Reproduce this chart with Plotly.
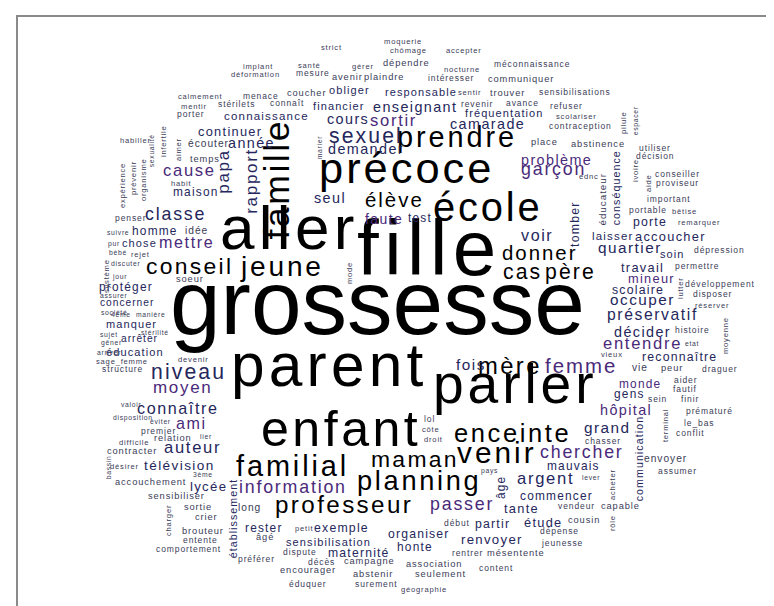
import plotly.graph_objects as go

# ---- data: word -> frequency (font size = freq * SCALE px) ----
word_freq = {
    "grossesse": 107, "fille": 92, "parent": 71, "aller": 73, "parler": 65, "enfant": 59,
    "précoce": 51, "école": 47, "famille": 42, "familial": 34, "venir": 35, "prendre": 34,
    "jeune": 33, "planning": 32, "enceinte": 30, "professeur": 28.5, "maman": 27, "conseil": 27,
    "mère": 28, "niveau": 25, "sexuel": 25, "cas": 25, "père": 25, "donner": 24, "femme": 24,
    "élève": 24, "garçon": 21, "chercher": 21, "classe": 21, "information": 21, "passer": 21,
    "rapport": 20, "papa": 20, "moyen": 20, "argent": 19.5, "cause": 19.5, "auteur": 19.5,
    "entendre": 19.5, "sortir": 19.5, "mettre": 19, "connaître": 19, "ami": 19, "voir": 19,
    "préservatif": 18.5, "quartier": 18, "occuper": 18, "fois": 18, "grand": 18,
    "décider": 17, "cours": 17, "camarade": 17, "enseignant": 17, "année": 17, "demander": 17,
    "problème": 17, "hôpital": 17, "seul": 17, "faute": 16.5, "télévision": 16, "lycée": 15.5,
    "renvoyer": 15.5, "continuer": 15, "travail": 15, "mineur": 15, "tante": 15, "étude": 15,
    "accoucher": 15, "protéger": 14, "tomber": 14.5, "scolaire": 14.5, "reconnaître": 14.5,
    "partir": 14.5, "exemple": 14.5, "porte": 14.5, "maternité": 14.4, "organiser": 14.4,
    "monde": 14, "gens": 14, "mauvais": 14, "commencer": 14, "âge": 14, "rester": 14,
    "honte": 14, "test": 14, "maison": 14, "homme": 14, "chose": 13, "concerner": 12,
    "manquer": 13, "éducation": 13, "connaissance": 13.5, "laisser": 13.5, "sensibilisation": 13,
    "soin": 13, "arrêter": 12, "obliger": 13, "responsable": 13, "fréquentation": 13,
    "financier": 13, "conséquence": 12.5, "établissement": 12.5, "communication": 12.5,
    "idée": 12, "écouter": 12, "vie": 12, "envoyer": 12, "long": 12, "contracter": 11,
    "éducateur": 11.5, "soeur": 11, "temps": 11, "dépendre": 11, "avenir": 11, "plaindre": 11,
    "communiquer": 11, "coucher": 11, "trouver": 11, "place": 11, "abstinence": 11,
    "peur": 11, "capable": 11, "cousin": 11, "mésentente": 11, "association": 11,
    "seulement": 11, "campagne": 11, "encourager": 11, "abstenir": 11, "âgé": 11,
    "relation": 11, "accouchement": 11, "sensibiliser": 11, "sortie": 11, "crier": 11,
    "brouteur": 11, "structure": 10, "méconnaissance": 10, "mesure": 10, "intéresser": 10,
    "menace": 10, "connaît": 10, "sensibilisations": 10, "stérilets": 10, "revenir": 10,
    "avance": 10, "refuser": 10, "porter": 10, "contraception": 10, "utiliser": 10,
    "décision": 10, "conseiller": 10, "proviseur": 10, "important": 10, "portable": 10,
    "dépression": 10, "permettre": 10, "développement": 10, "disposer": 10, "histoire": 10,
    "draguer": 10, "aider": 10, "fautif": 10, "sein": 10, "finir": 10, "prématuré": 10,
    "le_bas": 10, "conflit": 10, "chasser": 10, "assumer": 10, "vendeur": 10, "lol": 10,
    "début": 10, "dépense": 10, "jeunesse": 10, "rentrer": 10, "content": 10, "dispute": 10,
    "décès": 10, "éduquer": 10, "surement": 10, "préférer": 10, "entente": 10,
    "comportement": 10, "penser": 10, "rejet": 9, "sage_femme": 9, "premier": 10,
    "difficile": 9, "désirer": 9, "strict": 9, "moquerie": 9, "chômage": 9, "accepter": 9,
    "santé": 9, "gérer": 9, "nocturne": 9, "implant": 9, "déformation": 9, "calmement": 9,
    "sentir": 9, "mentir": 9, "scolariser": 9, "pilule": 9, "ivoire": 9, "aide": 9,
    "bêtise": 9, "remarquer": 9, "lutter": 9, "réserver": 9, "moyenne": 9, "vieux": 9,
    "terminal": 9, "acheter": 9, "rôle": 9, "ednc": 9, "côte": 9, "droit": 9,
    "géographie": 9, "petit": 9, "charger": 9, "infertile": 9, "aimer": 9, "habit": 9,
    "mode": 9, "devenir": 9, "habiller": 9, "organisme": 9, "expérience": 9, "prévenir": 9,
    "suivre": 8, "pur": 8, "bébé": 8, "discuter": 8, "système": 9, "jour": 8, "société": 8,
    "assurer": 8, "sujet": 8, "gêner": 8, "arriver": 8, "valoir": 8, "disposition": 8,
    "bassin": 8, "espacer": 8, "etat": 8, "lever": 8, "pays": 8, "éviter": 8, "lier": 8,
    "3ème": 8, "manière": 8, "sexualité": 8, "marier": 8, "4ème": 8, "stérilité": 8,
}
SCALE = 0.85

# ---- layout of the cloud: word -> (x px, y px, rotated?, tone) ----
placement = {
    "grossesse": (369, 313, 0, "k"), "fille": (419, 256, 0, "k"), "parent": (319, 369, 0, "k"),
    "aller": (279, 232, 0, "k"), "parler": (506, 387, 0, "k"), "enfant": (331, 431, 0, "k"),
    "précoce": (397, 169, 0, "k"), "école": (478, 207, 0, "k"), "famille": (276, 172, 1, "k"),
    "familial": (283, 464, 0, "k"), "venir": (488, 450, 0, "k"), "prendre": (448, 135, 0, "k"),
    "jeune": (273, 264, 0, "k"), "planning": (410, 478, 0, "k"), "enceinte": (503, 430, 0, "k"),
    "professeur": (335, 501, 0, "k"), "maman": (406, 456, 0, "k"), "conseil": (180, 263, 0, "k"),
    "mère": (501, 362, 0, "k"), "niveau": (179, 368, 0, "n"), "sexuel": (357, 132, 0, "n"),
    "cas": (513, 268, 0, "k"), "père": (561, 268, 0, "k"), "donner": (531, 249, 0, "k"),
    "femme": (572, 362, 0, "p"), "élève": (385, 196, 0, "k"), "garçon": (545, 165, 0, "p"),
    "chercher": (573, 448, 0, "p"), "classe": (167, 210, 0, "n"), "information": (284, 483, 0, "p"),
    "passer": (453, 500, 0, "p"), "rapport": (247, 174, 1, "n"), "papa": (219, 164, 1, "n"),
    "moyen": (174, 383, 0, "p"), "argent": (537, 474, 0, "n"), "cause": (181, 166, 0, "p"),
    "auteur": (184, 443, 0, "n"), "entendre": (634, 339, 0, "p"), "sortir": (385, 116, 0, "p"),
    "mettre": (178, 237, 0, "p"), "connaître": (169, 403, 0, "n"), "ami": (183, 418, 0, "p"),
    "voir": (528, 230, 0, "n"), "préservatif": (644, 310, 0, "n"), "quartier": (621, 243, 0, "n"),
    "occuper": (634, 295, 0, "n"), "fois": (462, 360, 0, "n"), "grand": (599, 423, 0, "n"),
    "décider": (634, 327, 0, "n"), "cours": (339, 114, 0, "n"), "camarade": (479, 119, 0, "n"),
    "enseignant": (406, 102, 0, "n"), "année": (243, 138, 0, "n"), "demander": (357, 144, 0, "n"),
    "problème": (548, 155, 0, "p"), "hôpital": (617, 405, 0, "p"), "seul": (321, 193, 0, "n"),
    "faute": (375, 214, 0, "p"), "télévision": (171, 460, 0, "n"), "lycée": (200, 481, 0, "n"),
    "renvoyer": (483, 534, 0, "n"), "continuer": (221, 126, 0, "n"), "travail": (634, 262, 0, "n"),
    "mineur": (643, 273, 0, "p"), "tante": (513, 503, 0, "n"), "étude": (535, 517, 0, "n"),
    "accoucher": (662, 231, 0, "n"), "protéger": (117, 281, 0, "n"), "tomber": (570, 217, 1, "n"),
    "scolaire": (629, 284, 0, "n"), "reconnaître": (671, 351, 0, "n"), "partir": (484, 518, 0, "n"),
    "exemple": (333, 522, 0, "n"), "porte": (641, 216, 0, "n"), "maternité": (350, 547, 0, "n"),
    "organiser": (410, 528, 0, "n"), "monde": (631, 378, 0, "p"), "gens": (621, 388, 0, "n"),
    "mauvais": (565, 460, 0, "n"), "commencer": (548, 490, 0, "n"), "âge": (496, 480, 1, "n"),
    "rester": (255, 522, 0, "n"), "honte": (406, 541, 0, "n"), "test": (411, 212, 0, "n"),
    "maison": (187, 186, 0, "n"), "homme": (146, 225, 0, "n"), "chose": (131, 237, 0, "n"),
    "concerner": (118, 297, 0, "n"), "manquer": (123, 318, 0, "n"), "éducation": (126, 346, 0, "n"),
    "connaissance": (258, 110, 0, "n"), "laisser": (604, 230, 0, "n"),
    "sensibilisation": (320, 536, 0, "n"), "soin": (664, 248, 0, "n"), "arrêter": (131, 333, 0, "n"),
    "obliger": (341, 84, 0, "n"), "responsable": (412, 86, 0, "n"), "fréquentation": (496, 107, 0, "n"),
    "financier": (330, 100, 0, "n"), "conséquence": (611, 180, 1, "n"),
    "établissement": (228, 511, 1, "n"), "communication": (634, 451, 1, "n"),
    "idée": (188, 225, 0, "d"), "écouter": (200, 138, 0, "d"), "vie": (631, 362, 0, "d"),
    "envoyer": (657, 453, 0, "d"), "long": (241, 502, 0, "d"), "contracter": (124, 445, 0, "d"),
    "éducateur": (596, 192, 1, "d"), "soeur": (182, 273, 0, "d"), "temps": (197, 153, 0, "d"),
    "dépendre": (398, 57, 0, "d"), "avenir": (339, 71, 0, "d"), "plaindre": (376, 71, 0, "d"),
    "communiquer": (513, 73, 0, "d"), "coucher": (298, 87, 0, "d"), "trouver": (499, 87, 0, "d"),
    "place": (536, 136, 0, "d"), "abstinence": (590, 138, 0, "d"), "peur": (664, 362, 0, "d"),
    "capable": (612, 500, 0, "d"), "cousin": (576, 514, 0, "d"), "mésentente": (508, 547, 0, "d"),
    "association": (426, 558, 0, "d"), "seulement": (432, 568, 0, "d"), "campagne": (361, 555, 0, "d"),
    "encourager": (300, 564, 0, "d"), "abstenir": (365, 568, 0, "d"), "âgé": (257, 531, 0, "d"),
    "relation": (165, 432, 0, "d"), "accouchement": (142, 476, 0, "d"),
    "sensibiliser": (168, 490, 0, "d"), "sortie": (190, 501, 0, "d"), "crier": (198, 511, 0, "d"),
    "brouteur": (195, 525, 0, "d"), "structure": (114, 363, 0, "d"),
    "méconnaissance": (524, 58, 0, "d"), "mesure": (305, 67, 0, "d"), "intéresser": (443, 72, 0, "d"),
    "menace": (253, 90, 0, "d"), "connaît": (279, 97, 0, "d"), "sensibilisations": (567, 86, 0, "d"),
    "stérilets": (228, 98, 0, "d"), "revenir": (469, 98, 0, "d"), "avance": (514, 97, 0, "d"),
    "refuser": (558, 100, 0, "d"), "porter": (183, 108, 0, "d"), "contraception": (572, 120, 0, "d"),
    "utiliser": (647, 142, 0, "d"), "décision": (647, 150, 0, "d"), "conseiller": (669, 168, 0, "d"),
    "proviseur": (669, 177, 0, "d"), "important": (661, 193, 0, "d"), "portable": (640, 204, 0, "d"),
    "dépression": (711, 244, 0, "d"), "permettre": (689, 260, 0, "d"),
    "développement": (712, 278, 0, "d"), "disposer": (704, 288, 0, "d"), "histoire": (684, 324, 0, "d"),
    "draguer": (712, 363, 0, "d"), "aider": (677, 374, 0, "d"), "fautif": (677, 383, 0, "d"),
    "sein": (649, 393, 0, "d"), "finir": (682, 393, 0, "d"), "prématuré": (701, 405, 0, "d"),
    "le_bas": (691, 417, 0, "d"), "conflit": (682, 427, 0, "d"), "chasser": (595, 435, 0, "d"),
    "assumer": (669, 465, 0, "d"), "vendeur": (568, 500, 0, "d"), "lol": (421, 413, 0, "d"),
    "début": (449, 517, 0, "d"), "dépense": (551, 525, 0, "d"), "jeunesse": (554, 537, 0, "d"),
    "rentrer": (459, 547, 0, "d"), "content": (488, 562, 0, "d"), "dispute": (292, 546, 0, "d"),
    "décès": (313, 556, 0, "d"), "éduquer": (300, 578, 0, "d"), "surement": (368, 578, 0, "d"),
    "préférer": (248, 553, 0, "d"), "entente": (192, 534, 0, "d"), "comportement": (180, 543, 0, "d"),
    "penser": (122, 212, 0, "d"), "rejet": (132, 248, 0, "d"), "sage_femme": (114, 355, 0, "d"),
    "premier": (150, 425, 0, "d"), "difficile": (126, 436, 0, "d"), "désirer": (116, 460, 0, "d"),
    "strict": (323, 41, 0, "d"), "moquerie": (395, 35, 0, "d"), "chômage": (400, 44, 0, "d"),
    "accepter": (456, 44, 0, "d"), "santé": (301, 59, 0, "d"), "gérer": (355, 60, 0, "d"),
    "nocturne": (454, 63, 0, "d"), "implant": (250, 60, 0, "d"), "déformation": (247, 68, 0, "d"),
    "calmement": (192, 90, 0, "d"), "sentir": (461, 86, 0, "d"), "mentir": (186, 100, 0, "d"),
    "scolariser": (568, 110, 0, "d"), "pilule": (617, 115, 1, "d"), "ivoire": (629, 163, 1, "d"),
    "aide": (642, 175, 1, "d"), "bêtise": (676, 205, 0, "d"), "remarquer": (691, 216, 0, "d"),
    "lutter": (674, 280, 1, "d"), "réserver": (704, 299, 0, "d"), "moyenne": (719, 328, 1, "d"),
    "vieux": (604, 348, 0, "d"), "terminal": (659, 418, 1, "d"), "acheter": (606, 477, 1, "d"),
    "rôle": (606, 515, 1, "d"), "ednc": (581, 170, 0, "d"), "côte": (423, 423, 0, "d"),
    "droit": (425, 433, 0, "d"), "géographie": (416, 583, 0, "d"), "petit": (296, 522, 0, "d"),
    "charger": (162, 513, 1, "d"), "infertile": (157, 133, 1, "d"), "aimer": (172, 142, 1, "d"),
    "habit": (173, 177, 0, "d"), "mode": (343, 265, 1, "d"), "devenir": (185, 353, 0, "d"),
    "habiller": (127, 134, 0, "d"), "organisme": (137, 172, 1, "d"), "expérience": (116, 178, 1, "d"),
    "prévenir": (127, 170, 1, "d"), "suivre": (110, 226, 0, "d"), "pur": (106, 237, 0, "d"),
    "bébé": (110, 246, 0, "d"), "discuter": (117, 257, 0, "d"), "système": (100, 268, 1, "d"),
    "jour": (111, 270, 0, "d"), "société": (106, 306, 0, "d"), "assurer": (106, 289, 0, "d"),
    "sujet": (101, 328, 0, "d"), "gêner": (103, 336, 0, "d"), "arriver": (101, 346, 0, "d"),
    "valoir": (123, 398, 0, "d"), "disposition": (125, 411, 0, "d"), "bassin": (102, 460, 1, "d"),
    "espacer": (629, 113, 1, "d"), "etat": (684, 337, 0, "d"), "lever": (583, 471, 0, "d"),
    "pays": (481, 464, 0, "d"), "éviter": (152, 415, 0, "d"), "lier": (198, 430, 0, "d"),
    "3ème": (195, 468, 0, "d"), "manière": (142, 308, 0, "d"), "sexualité": (145, 143, 1, "d"),
    "marier": (313, 140, 1, "d"), "4ème": (113, 308, 0, "d"), "stérilité": (147, 326, 0, "d"),
}

tones = {"k": "#000000", "n": "#25275c", "p": "#4a2a7a", "d": "#3a3c58"}

words = list(word_freq.keys())
freq = list(word_freq.values())

W, H = 774, 606
fig = go.Figure()
fig.add_trace(go.Scatter(x=[0, W], y=[0, H], mode="markers",
                         marker=dict(opacity=0), hoverinfo="skip", showlegend=False))

annotations = []
for w, f in zip(words, freq):
    x, y, rot, tone = placement[w]
    size = round(f * SCALE, 1)
    # the source rendering spreads the letters a little
    if size >= 80:
        track = 0.0
    elif size >= 35:
        track = 0.07 * size
    else:
        track = 0.1 * size
    off = 0.2 * size          # visual centre of the letters -> text-box centre
    trail = track / 2.0       # trailing letter-space after the last glyph
    if rot:
        ax, ay = x - off, y - trail
    else:
        ax, ay = x + trail, y - off
    label = w if track == 0 else '<span style="letter-spacing:%.1fpx">%s</span>' % (track, w)
    annotations.append(dict(
        x=ax, y=ay, xref="x", yref="y", text=label, showarrow=False,
        xanchor="center", yanchor="middle", textangle=-90 if rot else 0,
        font=dict(family="Liberation Sans, Arial, sans-serif", size=size, color=tones[tone]),
    ))

fig.update_layout(
    width=W, height=H, margin=dict(l=0, r=0, t=0, b=0),
    paper_bgcolor="white", plot_bgcolor="white",
    xaxis=dict(range=[0, W], visible=False, fixedrange=True),
    yaxis=dict(range=[H, 0], visible=False, fixedrange=True),
    annotations=annotations,
    shapes=[dict(type="rect", xref="x", yref="y", x0=9, y0=8, x1=W + 10, y1=H + 10,
                 line=dict(color="#8a8a8a", width=2))],
    showlegend=False,
)

fig.write_html("out.html")
